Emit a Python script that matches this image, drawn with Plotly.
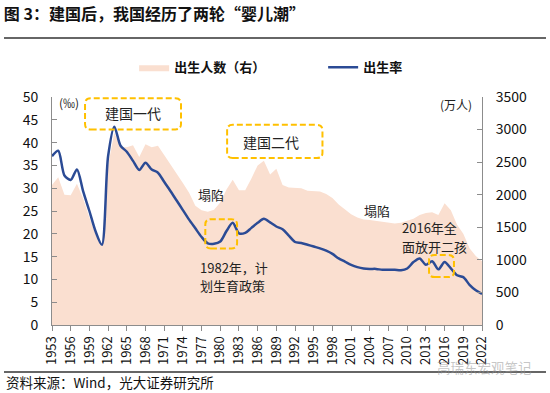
import plotly.graph_objects as go

years = list(range(1953, 2023))

birth_rate = [37.0, 38.2, 32.8, 31.8, 34.1, 29.3, 25.0, 20.5, 17.6, 37.0,
              43.5, 39.3, 38.0, 36.0, 34.0, 35.6, 34.1, 33.4, 31.4, 29.4,
              27.3, 25.2, 23.1, 21.2, 19.3, 17.9, 17.8, 18.3, 20.6, 22.4,
              20.1, 20.2, 21.3, 22.4, 23.3, 22.5, 21.6, 21.0, 19.6, 18.2,
              18.0, 17.6, 17.2, 16.8, 16.3, 15.6, 14.6, 13.9, 13.2, 12.7,
              12.4, 12.3, 12.3, 12.1, 12.1, 12.1, 12.0, 12.4, 13.8, 14.6,
              13.2, 14.0, 12.2, 13.8, 12.4, 10.9, 10.5, 8.8, 7.6, 6.8]

births = [2150, 2270, 2000, 1990, 2170, 1940, 1650, 1390, 1200, 2450,
          2950, 2730, 2730, 2760, 2580, 2775, 2730, 2750, 2610, 2470,
          2330, 2180, 2030, 1830, 1760, 1740, 1770, 1880, 2080, 2230,
          2070, 2070, 2250, 2450, 2520, 2310, 2400, 2150, 2110, 2100,
          2100, 2060, 2060, 2050, 2010, 1950, 1850, 1770, 1700, 1650,
          1620, 1610, 1600, 1580, 1570, 1560, 1570, 1600, 1630, 1690,
          1720, 1730, 1690, 1870, 1760, 1540, 1400, 1180, 1060, 980]

x_ticks = years[::3]
x_tick_labels = [str(y) for y in x_ticks]

FONT = "Noto Sans CJK SC, Noto Sans, sans-serif"
PINK = "#FADFD0"
BLUE = "#2B4B95"
GOLD = "#FFC000"
AXIS = "#8C8C8C"

fig = go.Figure()
fig.add_trace(go.Scatter(x=years, y=births, name="<b>出生人数（右）</b>", mode="lines",
                         fill="tozeroy", fillcolor=PINK,
                         line=dict(width=0, color=PINK), yaxis="y"))
fig.add_trace(go.Scatter(x=years, y=birth_rate, name="<b>出生率</b>", mode="lines",
                         line=dict(color=BLUE, width=2.5, shape="spline", smoothing=0.8),
                         yaxis="y2"))


def rrect(x0, x1, y0, y1, rx=0.9, ry=1.2):
    return (f"M {x0+rx},{y0} L {x1-rx},{y0} Q {x1},{y0} {x1},{y0+ry} "
            f"L {x1},{y1-ry} Q {x1},{y1} {x1-rx},{y1} L {x0+rx},{y1} "
            f"Q {x0},{y1} {x0},{y1-ry} L {x0},{y0+ry} Q {x0},{y0} {x0+rx},{y0} Z")


boxes = [(1958.3, 1973.7, 42.9, 49.7), (1981.1, 1996.4, 36.6, 43.9),
         (1977.6, 1982.7, 16.8, 23.2), (2013.5, 2017.5, 10.5, 15.35)]
shapes = []
for b in boxes:
    shapes.append(dict(type="path", xref="x", yref="y2", path=rrect(*b),
                       line=dict(color=GOLD, width=2, dash="6px,3px")))
# title underline and footer line
shapes.append(dict(type="line", xref="paper", yref="paper", x0=-0.1116, x1=1.1488,
                   y0=1.2588, y1=1.2588, line=dict(color="#333333", width=1.5)))
shapes.append(dict(type="line", xref="paper", yref="paper", x0=-0.1116, x1=1.1488,
                   y0=-0.2061, y1=-0.2061, line=dict(color="#333333", width=1.5)))

ann = []
def txt(text, x, y, size=13, xanchor="center", align="center", xref="x", yref="y2", color="#222222"):
    ann.append(dict(text=text, x=x, y=y, xref=xref, yref=yref, showarrow=False,
                    xanchor=xanchor, yanchor="middle", align=align,
                    font=dict(size=size, color=color, family=FONT)))

txt("建国一代", 1966.0, 46.4, size=14)
txt("建国二代", 1988.2, 40.2, size=14)
txt("塌陷", 1978.5, 28.7, size=13)
txt("1982年，计", 1976.5, 12.7, size=13, xanchor="left", align="left")
txt("划生育政策", 1976.5, 8.75, size=13, xanchor="left", align="left")
txt("塌陷", 2005.1, 25.2, size=13)
txt("2016年全", 2008.8, 21.3, size=13, xanchor="left", align="left")
txt("面放开二孩", 2008.8, 17.3, size=13, xanchor="left", align="left")
txt("(‰)", 0.0116, 0.976, size=12, xanchor="left", xref="paper", yref="paper")
txt("(万人)", 0.982, 0.969, size=12, xanchor="right", xref="paper", yref="paper")
txt("资料来源：Wind，光大证券研究所", -0.1116, -0.25, size=13.5, xanchor="left",
    xref="paper", yref="paper", color="#111111")
txt("高瑞东宏观笔记", 1.12, -0.185, size=13.5, xanchor="right",
    xref="paper", yref="paper", color="rgba(150,150,150,0.55)")

fig.update_layout(
    width=550, height=393,
    margin=dict(l=52, r=68, t=97, b=68),
    paper_bgcolor="white", plot_bgcolor="white",
    font=dict(family=FONT, color="#111111"),
    title=dict(text="<b>图 3：建国后，我国经历了两轮“婴儿潮”</b>", x=0.007, xref="container",
               xanchor="left", y=0.963, yref="container", yanchor="middle",
               font=dict(size=16, color="#111111", family=FONT)),
    showlegend=True,
    legend=dict(orientation="h", x=0.191, y=1.13, xanchor="left", yanchor="middle",
                font=dict(size=13, color="#111111", family=FONT),
                entrywidth=144, entrywidthmode="pixels", traceorder="normal",
                bgcolor="rgba(0,0,0,0)"),
    xaxis=dict(range=[1953, 2022], tickmode="array", tickvals=x_ticks, ticktext=x_tick_labels,
               tickangle=-90, ticks="outside", ticklen=5, tickcolor=AXIS,
               showline=True, linecolor=AXIS, linewidth=1, showgrid=False, zeroline=False,
               tickfont=dict(size=13, color="#111111", family=FONT)),
    yaxis=dict(range=[0, 3500], dtick=500, side="right", ticks="inside", ticklen=5,
               tickcolor=AXIS, showline=True, linecolor=AXIS, linewidth=1,
               showgrid=False, zeroline=False, ticklabelstandoff=10,
               tickfont=dict(size=14, color="#111111", family=FONT)),
    yaxis2=dict(range=[0, 50], dtick=5, side="left", overlaying="y", ticks="inside",
                ticklen=5, tickcolor=AXIS, showline=True, linecolor=AXIS, linewidth=1,
                showgrid=False, zeroline=False, ticklabelstandoff=10,
                tickfont=dict(size=14, color="#111111", family=FONT)),
    shapes=shapes,
    annotations=ann,
)

fig.write_html("out.html", config={"displayModeBar": False},
               post_script="document.body.style.margin='0px';document.body.style.overflow='hidden';")
